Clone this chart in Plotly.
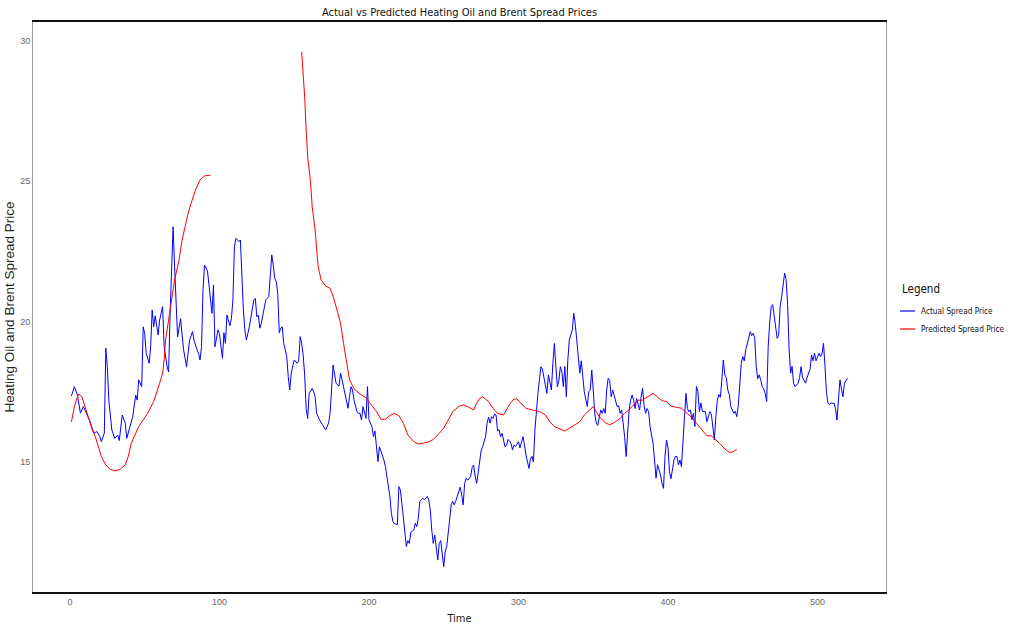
import plotly.graph_objects as go

# ---- data ----
actual_t = [1,3,5,7,9,11,13,16,18,20,21,23,24,25,26,28,30,32,33,35,37,38,40,42,44,45,46,48,49,50,
            51,53,54,55,56,57,59,60,62,63,65,66,67,68,69,70,71,72,74,75,76,78,79,80,82,83,85,86,87,88,
            89,90,92,93,94,95,96,97,99,100,102,103,104,105,107,108,109,110,111,113,114,115,116,117,118,120,121,123,124,125,
            126,127,128,130,131,133,134,135,136,137,138,139,140,141,142,143,144,145,146,147,148,150,152,153,
            154,155,156,157,158,159,160,162,163,164,165,167,169,171,173,174,176,177,178,180,181,182,183,184,
            185,186,187,188,189,190,192,193,194,195,196,197,198,199,200,202,203,204,205,206,207,208,210,211,
            212,213,214,215,216,217,219,220,221,222,223,224,225,226,227,228,230,231,232,233,234,235,236,237,
            239,240,241,242,243,244,245,246,247,248,250,251,252,253,254,255,256,257,258,260,261,262,263,264,
            265,266,268,269,270,271,272,273,274,275,276,278,279,280,281,282,283,284,285,286,287,288,289,290,
            291,292,293,294,295,296,297,298,300,301,302,303,304,305,307,308,309,310,311,312,313,314,315,316,
            318,319,320,321,322,323,324,325,326,327,328,329,330,331,332,333,334,336,337,338,339,340,341,342,
            343,344,346,347,348,349,350,351,352,353,355,356,357,358,359,360,361,362,363,364,366,367,368,369,
            370,371,372,373,374,375,376,377,378,379,380,381,382,383,384,385,386,387,388,389,390,391,392,393,
            395,396,397,398,399,400,401,402,404,405,406,407,408,409,410,411,412,413,414,415,416,417,418,419,
            420,421,422,423,425,426,427,428,429,430,431,432,433,434,435,436,437,438,439,440,441,442,444,445,
            446,447,448,449,450,451,452,453,455,456,457,458,459,460,461,462,463,464,465,466,467,468,469,470,
            472,473,474,475,476,477,478,479,480,481,482,483,484,485,486,487,488,489,490,492,493,494,495,496,
            497,498,499,501,502,503,504,505,506,507,508,509,510,511,512,513,514,515,516,517,518,520]
actual_v = [17.35,17.68,17.38,16.74,16.97,16.74,16.5,16.03,16.08,15.9,15.72,16.03,19.05,18.4,17.2,16.14,15.84,15.96,15.76,16.67,
            16.38,15.84,16.26,16.61,17.38,17.2,17.92,17.68,19.81,19.57,
            18.87,18.51,19.1,20.41,19.81,20.2,19.52,20.05,20.53,19.1,18.39,18.2,20.29,22.3,23.37,21.95,20.41,19.45,20.1,19.45,
            19.0,18.39,18.87,19.33,19.64,19.33,18.99,18.87,18.63,19.1,
            21.12,22.01,21.8,21.24,20.77,20.29,21.3,19.1,19.7,19.57,18.69,19.6,19.22,20.23,19.85,20.1,20.77,22.66,22.96,22.84,
            22.9,21.48,20.41,19.7,19.34,19.81,20.17,20.77,20.82,20.17,
            20.23,19.76,19.93,20.53,20.77,20.88,21.83,22.37,22.0,21.53,21.42,21.0,19.6,19.76,19.81,19.22,18.99,18.75,18.04,17.56,
            18.16,18.63,18.51,18.6,
            19.46,19.22,18.8,18.1,16.9,16.55,17.44,17.62,17.5,17.32,16.73,16.49,16.32,16.14,16.38,16.73,18.45,18.16,17.8,17.7,
            18.16,17.92,17.68,17.44,
            17.2,16.91,17.32,17.68,17.56,17.2,16.79,16.73,16.73,16.49,16.97,16.8,16.55,17.68,16.5,16.25,15.9,16.1,15.43,15.01,
            15.54,15.4,15.07,14.83,
            14.48,14.24,13.77,13.17,12.88,12.8,12.77,14.12,14.0,13.53,13.05,12.46,11.99,12.2,12.1,12.5,12.58,12.82,12.7,13.0,
            13.59,13.65,13.71,13.65,
            13.77,13.65,13.29,12.58,12.1,12.4,11.99,11.51,12.1,12.2,11.27,11.8,11.99,12.58,13.05,13.47,13.6,13.47,13.6,14.0,
            14.1,13.85,13.47,14.24,
            14.42,14.35,14.48,14.8,14.89,14.5,14.24,14.6,15.07,15.4,15.54,15.9,16.38,16.6,16.38,16.61,16.55,16.7,16.67,16.1,
            16.15,15.9,16.02,15.78,
            15.54,15.6,15.8,15.75,15.66,15.43,15.6,15.55,15.72,15.5,15.66,15.9,15.6,15.25,14.77,15.1,15.2,15.0,16.14,16.97,
            17.44,17.92,18.39,18.3,
            17.8,17.44,18.1,17.8,17.56,18.51,19.22,18.4,17.68,17.9,18.39,18.2,17.68,18.4,17.32,18.63,19.34,19.7,20.29,19.9,
            19.34,18.9,18.16,18.6,
            17.92,17.5,16.97,17.5,17.56,18.27,17.56,16.73,16.38,16.3,16.85,16.73,16.9,16.73,17.56,17.98,17.9,17.32,17.56,17.35,
            16.97,17.0,16.73,16.85,
            16.38,15.9,15.19,16.2,16.85,17.2,17.38,17.2,16.9,17.26,17.0,16.85,17.3,17.62,17.0,16.73,16.9,16.8,16.26,15.9,
            15.66,15.07,14.42,14.9,
            14.54,14.24,14.06,15.2,15.78,15.5,14.65,14.4,15.07,15.2,15.19,14.9,15.07,14.83,15.7,16.73,17.44,16.9,16.79,16.85,
            16.5,16.73,16.26,17.68,
            17.5,16.79,17.1,16.8,16.79,16.43,16.6,16.79,16.7,16.14,15.78,16.6,17.2,17.4,17.3,17.92,18.63,18.1,18.0,17.56,
            17.4,16.97,16.73,16.8,
            16.61,17.0,17.92,18.51,18.75,18.6,18.99,19.2,19.64,19.5,19.58,19.4,18.39,17.96,18.1,17.92,17.68,17.6,17.44,17.15,
            19.1,19.94,20.53,20.6,
            19.7,19.4,19.5,20.53,20.88,21.36,21.72,21.5,20.6,18.99,18.16,18.4,17.8,17.68,17.75,17.8,18.0,18.39,18.0,17.8,
            18.0,18.16,18.3,18.81,
            18.6,18.87,18.6,18.87,18.75,18.85,19.22,18.4,17.44,17.1,17.05,17.1,17.08,17.1,16.9,16.49,17.32,17.92,17.6,17.32,
            17.8,17.98]

pred1_t = [1,3,5,6,8,10,12,15,17,19,21,24,27,30,33,37,39,41,44,46,49,52,56,58,60,62,63,64,66,68,70,73,75,77,79,81,84,87,90,94]
pred1_v = [16.43,16.97,17.32,17.42,17.32,16.97,16.61,16.14,15.9,15.54,15.19,14.89,14.74,14.68,14.72,14.89,15.19,15.66,16.02,16.26,
           16.5,16.73,17.15,17.44,17.8,18.16,18.63,19.34,20.05,20.77,21.48,22.19,22.9,23.37,23.85,24.2,24.68,25.04,25.18,25.21]

pred2_t = [155,156,157,158,159,161,162,164,165,166,168,171,174,176,178,181,183,185,187,190,194,198,202,205,208,211,214,217,220,223,
           226,230,233,236,240,243,246,250,253,256,260,263,266,270,272,274,276,280,283,286,290,292,294,297,299,302,305,309,314,318,
           321,324,328,331,334,338,341,344,348,350,352,354,358,361,364,368,371,375,378,380,383,387,390,392,396,399,402,406,409,412,
           416,419,421,426,429,431,435,438,441,443,446]
pred2_v = [29.6,28.83,28.0,26.81,25.86,24.92,24.09,23.26,22.54,21.95,21.48,21.26,21.18,20.9,20.53,19.94,19.22,18.51,17.92,17.6,
           17.42,17.28,17.0,16.8,16.52,16.52,16.65,16.73,16.65,16.38,15.96,15.72,15.64,15.66,15.72,15.8,15.96,16.2,16.49,16.79,
           16.97,17.03,16.97,16.85,17.09,17.26,17.32,17.15,16.91,16.73,16.67,16.85,17.05,17.24,17.24,17.07,16.91,16.85,16.8,16.67,
           16.43,16.26,16.16,16.1,16.2,16.32,16.43,16.67,16.85,16.97,16.79,16.61,16.4,16.32,16.4,16.55,16.73,16.91,17.09,17.2,
           17.2,17.32,17.44,17.35,17.18,17.15,16.99,16.94,16.91,16.76,16.58,16.38,16.26,15.93,15.93,15.84,15.64,15.46,15.34,15.35,
           15.45]

x_ticks = [0, 100, 200, 300, 400, 500]
y_ticks = [15, 20, 25, 30]
legend_title = "Legend"
legend_names = ["Actual Spread Price", "Predicted Spread Price"]
legend_colors = ["#0000FF", "#FF0000"]

FONT = "Liberation Sans, Arial, sans-serif"
COND = "DejaVu Sans Condensed, DejaVu Sans, sans-serif"

# plot area in pixels: x 33..886, y 22..592
L, R, T, B = 33, 886, 22, 592
W, H = 1011, 632
def px_x(p):
    return (p - L) / (R - L)
def px_y(p):
    return 1 - (p - T) / (B - T)

fig = go.Figure()
fig.add_trace(go.Scatter(x=actual_t, y=actual_v, mode="lines", name=legend_names[0],
                         line=dict(color=legend_colors[0], width=1)))
fig.add_trace(go.Scatter(x=pred1_t, y=pred1_v, mode="lines", name=legend_names[1],
                         line=dict(color=legend_colors[1], width=1)))
fig.add_trace(go.Scatter(x=pred2_t, y=pred2_v, mode="lines", name=legend_names[1],
                         line=dict(color=legend_colors[1], width=1)))

annotations = [dict(xref="paper", yref="paper", x=px_x(900), y=px_y(289), text=legend_title,
                    showarrow=False, xanchor="left", yanchor="middle",
                    font=dict(family=COND, size=11.5, color="#111"))]
shapes = []
for i, (name, col) in enumerate(zip(legend_names, legend_colors)):
    yy = 311 + 18 * i
    annotations.append(dict(xref="paper", yref="paper", x=px_x(919), y=px_y(yy), text=name,
                            showarrow=False, xanchor="left", yanchor="middle",
                            font=dict(family=COND, size=8.2, color="#111")))
    shapes.append(dict(type="line", xref="paper", yref="paper", x0=px_x(900), x1=px_x(915),
                       y0=px_y(yy), y1=px_y(yy), line=dict(color=col, width=1.2)))

fig.update_layout(
    width=W, height=H,
    margin=dict(l=L, r=W - R, t=T, b=H - B, autoexpand=False),
    paper_bgcolor="white", plot_bgcolor="white",
    font=dict(family=FONT, color="#222"),
    title=dict(text="Actual vs Predicted Heating Oil and Brent Spread Prices",
               x=0.4545, xanchor="center", y=0.981, yanchor="middle",
               font=dict(family=COND, size=11, color="#111")),
    showlegend=False,
    annotations=annotations,
    shapes=shapes,
)
fig.update_xaxes(range=[-24.7, 545.8], tickvals=x_ticks, ticktext=[str(v) for v in x_ticks],
                 showgrid=False, zeroline=False, ticks="", automargin=False,
                 tickfont=dict(size=9, color="#666"),
                 showline=True, linecolor="#111", linewidth=1.5, mirror=True,
                 title=dict(text="Time", font=dict(family=COND, size=11, color="#222"), standoff=9))
fig.update_yaxes(range=[10.37, 30.66], tickvals=y_ticks, ticktext=[str(v) for v in y_ticks],
                 showgrid=False, zeroline=False, ticks="", automargin=False,
                 tickfont=dict(size=9, color="#666"),
                 showline=True, linecolor="#999", linewidth=1, mirror=True,
                 title=dict(text="Heating Oil and Brent Spread Price", font=dict(size=13.5, color="#222"), standoff=2))

fig.write_html("out.html")
